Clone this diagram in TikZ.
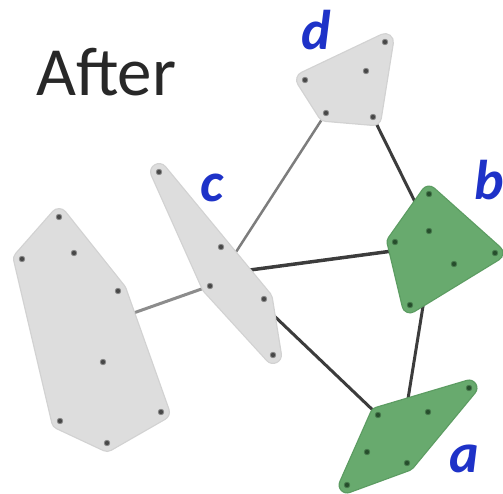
\documentclass[tikz,border=0pt]{standalone}
\usepackage{fontspec}
\setmainfont{Carlito}
\begin{document}
\begin{tikzpicture}[x=1pt,y=-1pt,
  grayedge/.style={draw={rgb,255:red,210;green,210;blue,210},line width=18pt,line join=round},
  grayhull/.style={fill={rgb,255:red,221;green,221;blue,221},draw={rgb,255:red,221;green,221;blue,221},line width=15.5pt,line join=round},
  greenedge/.style={draw={rgb,255:red,92;green,156;blue,98},line width=17pt,line join=round},
  greenhull/.style={fill={rgb,255:red,104;green,170;blue,110},draw={rgb,255:red,104;green,170;blue,110},line width=14.5pt,line join=round},
  pt/.style={circle,fill={rgb,255:red,72;green,72;blue,72},draw={rgb,255:red,135;green,135;blue,135},line width=0.8pt,inner sep=0pt,minimum size=5.5pt},
  ptg/.style={circle,fill={rgb,255:red,38;green,78;blue,44},draw={rgb,255:red,70;green,120;blue,75},line width=0.8pt,inner sep=0pt,minimum size=5.5pt},
  thinlink/.style={draw={rgb,255:red,125;green,125;blue,125},line width=2.5pt},
  darklink/.style={draw={rgb,255:red,60;green,60;blue,60},line width=3pt},
  lbl/.style={font=\fontsize{56}{56}\selectfont\bfseries\itshape,text={rgb,255:red,30;green,50;blue,200},inner sep=0pt,anchor=base}]
\clip (0,0) rectangle (503,494);
\fill[white] (0,0) rectangle (503,494);

% cluster points
\coordinate (d1) at (385,42);  \coordinate (d2) at (366,71);  \coordinate (d3) at (305,80);
\coordinate (d4) at (326,113); \coordinate (d5) at (373,117);
\coordinate (b1) at (429,194); \coordinate (b2) at (429,231); \coordinate (b3) at (395,242);
\coordinate (b4) at (495,253); \coordinate (b5) at (454,264); \coordinate (b6) at (410,305);
\coordinate (a1) at (469,388); \coordinate (a2) at (428,412); \coordinate (a3) at (378,415);
\coordinate (a4) at (367,452); \coordinate (a5) at (407,463); \coordinate (a6) at (347,485);
\coordinate (c1) at (159,172); \coordinate (c2) at (221,247); \coordinate (c3) at (210,286);
\coordinate (c4) at (264,299); \coordinate (c5) at (273,355);
\coordinate (e1) at (59,217);  \coordinate (e2) at (22,259);  \coordinate (e3) at (74,253);
\coordinate (e4) at (118,291); \coordinate (e5) at (103,362); \coordinate (e6) at (60,421);
\coordinate (e7) at (161,412); \coordinate (e8) at (107,443);

% link ends inside the hulls
\coordinate (cx) at (236,252);
\coordinate (bx) at (418,208);
\coordinate (cy) at (250,270);
\coordinate (by) at (400,250);
\coordinate (cz) at (268,310);
\coordinate (bz) at (424,300);
\coordinate (az) at (407,405);
\coordinate (ex) at (125,316);

% links
\draw[thinlink] (d4) -- (cx);
\draw[darklink] (d5) -- (bx);
\draw[darklink,line width=3.5pt] (cy) -- (by);
\draw[darklink] (cz) -- (a3);
\draw[darklink] (bz) -- (az);
\draw[thinlink,line width=3pt,draw={rgb,255:red,140;green,140;blue,140}] (ex) -- (c3);

% hulls: a slightly darker rim, then the body
\def\hullD{(d1) -- (d3) -- (d4) -- (d5) -- cycle}
\def\hullC{(c1) -- (c4) -- (c5) -- (c3) -- cycle}
\def\hullE{(e1) -- (e4) -- (e7) -- (e8) -- (e6) -- (e2) -- cycle}
\def\hullB{(b1) -- (b4) -- (b6) -- (b3) -- cycle}
\def\hullA{(a1) -- (a3) -- (a6) -- (a5) -- cycle}
\draw[grayedge] \hullD;  \filldraw[grayhull] \hullD;
\draw[grayedge] \hullC;  \filldraw[grayhull] \hullC;
\draw[grayedge] \hullE;  \filldraw[grayhull] \hullE;
\draw[greenedge] \hullB; \filldraw[greenhull] \hullB;
\draw[greenedge] \hullA; \filldraw[greenhull] \hullA;

% dots
\foreach \p in {d1,d2,d3,d4,d5,c1,c2,c3,c4,c5,e1,e2,e3,e4,e5,e6,e7,e8}
  \node[pt] (n\p) at (\p) {};
\foreach \p in {b1,b2,b3,b4,b5,b6,a1,a2,a3,a4,a5,a6}
  \node[ptg] (n\p) at (\p) {};

% labels
\node[lbl] (ld) at (316,50) {d};
\node[lbl] (lc) at (212,202) {c};
\node[lbl] (la) at (464,472) {a};
\node[lbl,anchor=base west] (lb) at (474,200) {b};
\node[font=\fontsize{69}{69}\selectfont,text={rgb,255:red,40;green,40;blue,40},inner sep=0pt,anchor=base west] (title) at (36,96) {After};
\end{tikzpicture}
\end{document}
